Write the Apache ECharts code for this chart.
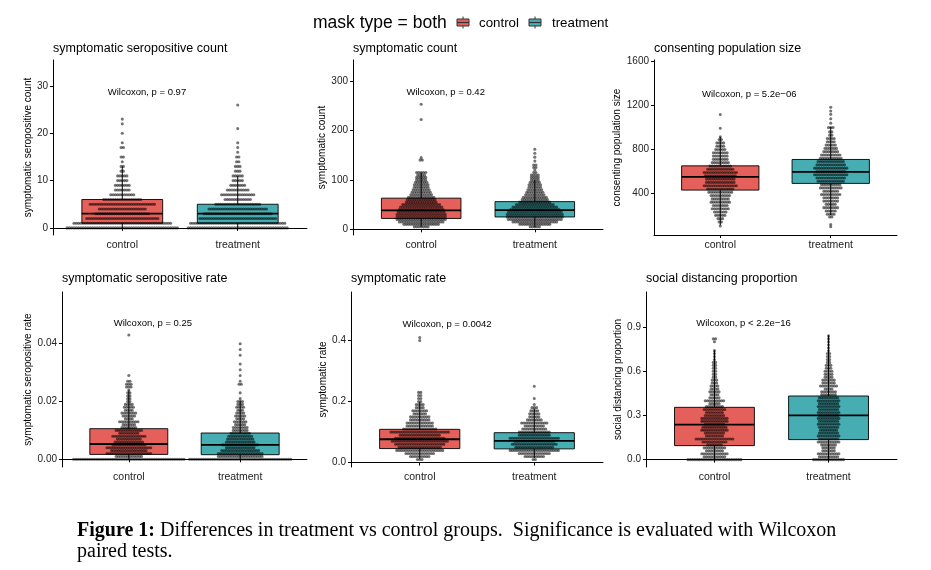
<!DOCTYPE html>
<html>
<head>
<meta charset="utf-8">
<script src="https://cdn.jsdelivr.net/npm/echarts@6/dist/echarts.min.js"></script>
<style>
html,body{margin:0;padding:0;background:#fff;}
#chart{width:931px;height:570px;}
</style>
</head>
<body>
<div id="chart"></div>
<script>
// ---------------- data ----------------
const categories = ['control', 'treatment'];
const panelTitles = ['symptomatic seropositive count', 'symptomatic count', 'consenting population size',
  'symptomatic seropositive rate', 'symptomatic rate', 'social distancing proportion'];
const yAxisNames = ['symptomatic seropositive count', 'symptomatic count', 'consenting population size',
  'symptomatic seropositive rate', 'symptomatic rate', 'social distancing proportion'];
const pValueLabels = ['Wilcoxon, p = 0.97', 'Wilcoxon, p = 0.42', 'Wilcoxon, p = 5.2e\u221206',
  'Wilcoxon, p = 0.25', 'Wilcoxon, p = 0.0042', 'Wilcoxon, p < 2.2e\u221216'];
const pValuePos = [[1.214, 28.6], [1.216, 276.5], [1.262, 1300], [1.216, 0.04696], [1.239, 0.4525], [1.255, 0.923]];
const yTicks = [[0, 10, 20, 30], [0, 100, 200, 300], [400, 800, 1200, 1600], [0, 0.02, 0.04], [0, 0.2, 0.4], [0, 0.3, 0.6, 0.9]];
const yTickLabels = [['0', '10', '20', '30'], ['0', '100', '200', '300'], ['400', '800', '1200', '1600'],
  ['0.00', '0.02', '0.04'], ['0.0', '0.2', '0.4'], ['0.0', '0.3', '0.6', '0.9']];
const yRanges = [[-1.5, 35.5], [-11.5, 342.5], [21, 1615], [-0.00266, 0.0579], [-0.0144, 0.559], [-0.05, 1.138]];

// box stats: [lower whisker, Q1, median, Q3, upper whisker]
const box1Control = [0, 1, 3, 6, 13];
const box1Treatment = [0, 1, 3, 5, 11];
const box2Control = [5, 22, 38.5, 63, 115];
const box2Treatment = [4, 25, 39, 56, 100];
const box3Control = [110, 430, 551, 651, 915];
const box3Treatment = [202, 491, 596, 709, 1005];
const box4Control = [0, 0.0017, 0.0053, 0.0106, 0.0239];
const box4Treatment = [0, 0.0016, 0.005, 0.0091, 0.0203];
const box5Control = [0.012, 0.046, 0.0765, 0.109, 0.199];
const box5Treatment = [0.015, 0.045, 0.071, 0.098, 0.177];
const box6Control = [0, 0.095, 0.2375, 0.355, 0.742];
const box6Treatment = [0, 0.136, 0.301, 0.432, 0.844];

// dot rows: [value, number of dots in the row]
const dots1Control = [[0,49],[1,43],[2,32],[3,24],[4,21],[5,29],[6,17],[7,11],[8,7],[9,7],[10,5],[11,5],[12,2],[13,2],[14,1],[15,2],[17,2],[18,1],[20,1],[22,1],[23,1]];
const dots1Treatment = [[0,44],[1,42],[2,34],[3,30],[4,26],[5,20],[6,12],[7,15],[8,10],[9,7],[10,5],[11,5],[12,3],[13,3],[14,2],[15,2],[16,1],[17,1],[18,1],[21,1],[26,1]];
const dots2Control = [[5,7],[10,16],[15,20],[20,22],[25,22],[30,22],[35,21],[40,20],[45,19],[50,17],[55,14],[60,13],[65,12],[70,10],[75,9],[80,8],[85,7],[90,7],[95,6],[100,5],[105,5],[110,4],[115,5],[140,2],[145,1],[222,1],[253,1]];
const dots2Treatment = [[5,5],[10,14],[15,20],[20,24],[25,25],[30,25],[35,24],[40,22],[45,20],[50,17],[55,14],[60,12],[65,11],[70,9],[75,8],[80,7],[85,6],[90,6],[95,5],[100,4],[105,4],[110,4],[115,2],[120,1],[125,2],[130,2],[138,1],[146,1],[154,1],[162,1]];
const dots3Control = [[103,1],[140,2],[170,3],[200,5],[230,6],[260,8],[290,7],[320,9],[350,8],[380,9],[410,11],[440,12],[470,15],[500,13],[530,13],[560,14],[590,15],[620,12],[650,10],[680,8],[710,7],[740,7],[770,7],[800,5],[830,4],[860,4],[890,2],[915,1],[994,1],[1118,1]];
const dots3Treatment = [[96,1],[116,1],[185,2],[210,4],[240,5],[270,7],[300,5],[330,7],[360,7],[390,9],[420,7],[450,10],[480,9],[510,12],[540,13],[570,15],[600,13],[630,15],[660,13],[690,12],[720,10],[750,9],[780,7],[810,6],[840,5],[870,4],[900,4],[930,2],[960,2],[1000,3],[1040,1],[1080,1],[1120,1],[1150,1],[1185,1]];
const dots4Control = [[0,49],[0.001,12],[0.002,20],[0.003,16],[0.004,20],[0.005,15],[0.006,13],[0.007,11],[0.008,15],[0.009,9],[0.010,12],[0.011,7],[0.012,6],[0.013,9],[0.014,4],[0.015,6],[0.016,7],[0.017,4],[0.018,5],[0.019,4],[0.020,2],[0.021,2],[0.022,2],[0.023,2],[0.024,1],[0.025,3],[0.026,3],[0.027,2],[0.029,1],[0.043,1]];
const dots4Treatment = [[0,45],[0.001,20],[0.002,20],[0.003,17],[0.004,13],[0.005,16],[0.006,13],[0.007,12],[0.008,11],[0.009,9],[0.010,7],[0.011,7],[0.012,5],[0.013,6],[0.014,4],[0.015,5],[0.016,4],[0.017,3],[0.018,4],[0.019,3],[0.020,3],[0.021,1],[0.023,1],[0.026,2],[0.027,1],[0.029,1],[0.031,1],[0.033,1],[0.036,1],[0.038,1],[0.040,1]];
const dots5Control = [[0.01,3],[0.02,9],[0.03,13],[0.04,21],[0.05,19],[0.06,22],[0.07,25],[0.08,22],[0.09,18],[0.10,26],[0.11,15],[0.12,12],[0.13,12],[0.14,9],[0.15,9],[0.16,6],[0.17,7],[0.18,4],[0.19,4],[0.20,2],[0.21,2],[0.22,2],[0.23,2],[0.40,1],[0.41,1]];
const dots5Treatment = [[0.01,2],[0.02,9],[0.03,14],[0.04,22],[0.05,17],[0.06,20],[0.07,18],[0.08,22],[0.09,14],[0.10,14],[0.11,11],[0.12,9],[0.13,12],[0.14,7],[0.15,5],[0.16,5],[0.17,4],[0.18,3],[0.19,1],[0.21,1],[0.25,1]];
const dots6Control = [[0,24],[0.02,10],[0.04,12],[0.06,8],[0.08,10],[0.10,7],[0.12,11],[0.14,17],[0.16,8],[0.18,9],[0.20,12],[0.22,11],[0.24,9],[0.26,12],[0.28,12],[0.30,9],[0.32,8],[0.34,10],[0.36,8],[0.38,5],[0.40,9],[0.42,5],[0.44,4],[0.46,5],[0.48,4],[0.50,4],[0.52,3],[0.54,3],[0.56,2],[0.58,2],[0.60,2],[0.62,2],[0.64,2],[0.66,2],[0.68,1],[0.70,1],[0.72,1],[0.74,1],[0.80,1],[0.82,2]];
const dots6Treatment = [[0,14],[0.02,9],[0.04,10],[0.06,6],[0.08,6],[0.10,7],[0.12,10],[0.14,9],[0.16,10],[0.18,9],[0.20,8],[0.22,9],[0.24,10],[0.26,9],[0.28,10],[0.30,9],[0.32,10],[0.34,9],[0.36,10],[0.38,9],[0.40,10],[0.42,9],[0.44,7],[0.46,7],[0.48,4],[0.50,8],[0.52,6],[0.54,6],[0.56,4],[0.58,4],[0.60,4],[0.62,3],[0.64,3],[0.66,2],[0.68,2],[0.70,2],[0.72,2],[0.74,1],[0.76,1],[0.78,1],[0.80,1],[0.82,1],[0.84,1]];

const legendTitle = 'mask type = both';
const captionLine1Bold = 'Figure 1:';
const captionLine1 = ' Differences in treatment vs control groups.  Significance is evaluated with Wilcoxon';
const captionLine2 = 'paired tests.';

// ---------------- layout / style ----------------
const FONT = '"Liberation Sans", Arial, Helvetica, sans-serif';
const SERIF = '"Liberation Serif", "DejaVu Serif", serif';
const COLORS = ['#E5605A', '#46ADB2'];
const grids = [
  {left: 53, top: 60, width: 254, height: 175},
  {left: 353, top: 60, width: 250, height: 175},
  {left: 654, top: 60, width: 243, height: 175},
  {left: 62, top: 292, width: 245, height: 175},
  {left: 351, top: 292, width: 252, height: 175},
  {left: 646, top: 292, width: 251, height: 175}
];
const yNameGaps = [18, 24, 32, 28, 22, 23];
const titleCenters = [48.3, 48.3, 48.3, 279, 279, 279];
const BOX_HALF = 0.35;
const DOT_STEP = 2.3;
const DOT_R = 1.55;

const boxes = [[box1Control, box1Treatment], [box2Control, box2Treatment], [box3Control, box3Treatment],
  [box4Control, box4Treatment], [box5Control, box5Treatment], [box6Control, box6Treatment]];
const dots = [[dots1Control, dots1Treatment], [dots2Control, dots2Treatment], [dots3Control, dots3Treatment],
  [dots4Control, dots4Treatment], [dots5Control, dots5Treatment], [dots6Control, dots6Treatment]];

function boxFill(color) {
  return function (params, api) {
    const g = api.value(0);
    const p1 = api.coord([g - BOX_HALF, api.value(4)]);
    const p2 = api.coord([g + BOX_HALF, api.value(2)]);
    return {type: 'rect', shape: {x: p1[0], y: p1[1], width: p2[0] - p1[0], height: p2[1] - p1[1]},
      style: {fill: color}};
  };
}
function boxLines(params, api) {
  const g = api.value(0);
  const lo = api.coord([g, api.value(1)]);
  const q1 = api.coord([g, api.value(2)]);
  const md = api.coord([g, api.value(3)]);
  const q3 = api.coord([g, api.value(4)]);
  const hi = api.coord([g, api.value(5)]);
  const l = api.coord([g - BOX_HALF, 0])[0];
  const r = api.coord([g + BOX_HALF, 0])[0];
  const st = {stroke: '#000', lineWidth: 1, fill: null};
  return {type: 'group', children: [
    {type: 'line', shape: {x1: q3[0], y1: q3[1], x2: hi[0], y2: hi[1]}, style: st},
    {type: 'line', shape: {x1: lo[0], y1: lo[1], x2: q1[0], y2: q1[1]}, style: st},
    {type: 'rect', shape: {x: l, y: q3[1], width: r - l, height: q1[1] - q3[1]}, style: {stroke: '#000', lineWidth: 0.9, fill: null}},
    {type: 'line', shape: {x1: l, y1: md[1], x2: r, y2: md[1]}, style: {stroke: '#000', lineWidth: 1.8}}
  ]};
}
function dotRow(params, api) {
  const g = api.value(0), v = api.value(1), n = api.value(2);
  const c = api.coord([g, v]);
  const children = [];
  for (let i = 0; i < n; i++) {
    children.push({type: 'circle', shape: {cx: c[0] + (i - (n - 1) / 2) * DOT_STEP, cy: c[1], r: DOT_R},
      style: {fill: 'rgba(0,0,0,0.55)'}});
  }
  return {type: 'group', children: children};
}
function textMark(params, api) {
  const c = api.coord([api.value(0), api.value(1)]);
  return {type: 'text', x: c[0], y: c[1],
    style: {text: pValueLabels[api.value(2)], align: 'center', verticalAlign: 'middle', fontSize: 9.5,
      fontFamily: FONT, fill: '#000'}};
}

const option = {
  animation: false,
  backgroundColor: '#fff',
  textStyle: {fontFamily: FONT},
  grid: grids,
  title: panelTitles.map((t, i) => ({text: t, left: grids[i].left, top: titleCenters[i] - 7, padding: 0,
    textStyle: {fontSize: 12.5, fontWeight: 'normal', color: '#000', fontFamily: FONT, lineHeight: 14}})),
  xAxis: grids.map((g, i) => ({
    gridIndex: i, type: 'value', min: 0.4, max: 2.6,
    axisLine: {show: true, lineStyle: {color: '#000', width: 1}},
    axisTick: {show: true, length: 3, customValues: [1, 2], lineStyle: {color: '#000'}},
    axisLabel: {customValues: [1, 2], formatter: v => categories[Math.round(v) - 1], fontSize: 10.5,
      color: '#222', margin: 5, fontFamily: FONT},
    splitLine: {show: false}
  })),
  yAxis: grids.map((g, i) => ({
    gridIndex: i, type: 'value', min: yRanges[i][0], max: yRanges[i][1],
    name: yAxisNames[i], nameLocation: 'middle', nameGap: yNameGaps[i],
    nameTextStyle: {fontSize: 10, color: '#000', fontFamily: FONT},
    axisLine: {show: true, lineStyle: {color: '#000', width: 1}},
    axisTick: {show: true, length: 3, customValues: yTicks[i], lineStyle: {color: '#000'}},
    axisLabel: {customValues: yTicks[i], fontSize: 10, color: '#222', margin: 5, fontFamily: FONT,
      formatter: v => { const k = yTicks[i].findIndex(t => Math.abs(t - v) < 1e-9); return k >= 0 ? yTickLabels[i][k] : ''; }},
    splitLine: {show: false}
  })),
  series: [],
  graphic: []
};

for (let i = 0; i < 6; i++) {
  for (let k = 0; k < 2; k++) {
    const b = boxes[i][k];
    option.series.push({name: categories[k], type: 'custom', xAxisIndex: i, yAxisIndex: i, z: 2,
      renderItem: boxFill(COLORS[k]), data: [[k + 1].concat(b)]});
  }
  for (let k = 0; k < 2; k++) {
    option.series.push({name: categories[k] + ' dots', type: 'custom', xAxisIndex: i, yAxisIndex: i, z: 3,
      renderItem: dotRow, data: dots[i][k].map(d => [k + 1, d[0], d[1]])});
  }
  for (let k = 0; k < 2; k++) {
    const b = boxes[i][k];
    option.series.push({name: categories[k] + ' box', type: 'custom', xAxisIndex: i, yAxisIndex: i, z: 4,
      renderItem: boxLines, data: [[k + 1].concat(b)]});
  }
  option.series.push({name: 'test', type: 'custom', xAxisIndex: i, yAxisIndex: i, z: 5,
    renderItem: textMark, data: [[pValuePos[i][0], pValuePos[i][1], i]]});
}

// legend (boxplot key glyphs)
function keyGlyph(x, color) {
  return {type: 'group', children: [
    {type: 'line', shape: {x1: x + 6, y1: 16.5, x2: x + 6, y2: 28.5}, style: {stroke: '#333', lineWidth: 1}},
    {type: 'rect', shape: {x: x, y: 19, width: 12, height: 7}, style: {fill: color, stroke: '#333', lineWidth: 1}},
    {type: 'line', shape: {x1: x, y1: 22.5, x2: x + 12, y2: 22.5}, style: {stroke: '#333', lineWidth: 1.2}}
  ]};
}
option.graphic.push(
  {type: 'text', x: 313, y: 23, style: {text: legendTitle, fontSize: 17.5, fontFamily: FONT, fill: '#000', verticalAlign: 'middle'}},
  keyGlyph(457, COLORS[0]),
  {type: 'text', x: 479, y: 23, style: {text: categories[0], fontSize: 13.3, fontFamily: FONT, fill: '#000', verticalAlign: 'middle'}},
  keyGlyph(529, COLORS[1]),
  {type: 'text', x: 552, y: 23, style: {text: categories[1], fontSize: 13.3, fontFamily: FONT, fill: '#000', verticalAlign: 'middle'}},
  {type: 'text', x: 77, y: 531, style: {text: '{b|' + captionLine1Bold + '}' + captionLine1,
    rich: {b: {fontWeight: 'bold', fontSize: 20, fontFamily: SERIF, fill: '#000'}},
    fontSize: 20, fontFamily: SERIF, fill: '#000', verticalAlign: 'middle'}},
  {type: 'text', x: 77, y: 552, style: {text: captionLine2, fontSize: 20,
    fontFamily: SERIF, fill: '#000', verticalAlign: 'middle'}}
);

const chart = echarts.init(document.getElementById('chart'), null, {renderer: 'canvas'});
chart.setOption(option);
</script>
</body>
</html>
